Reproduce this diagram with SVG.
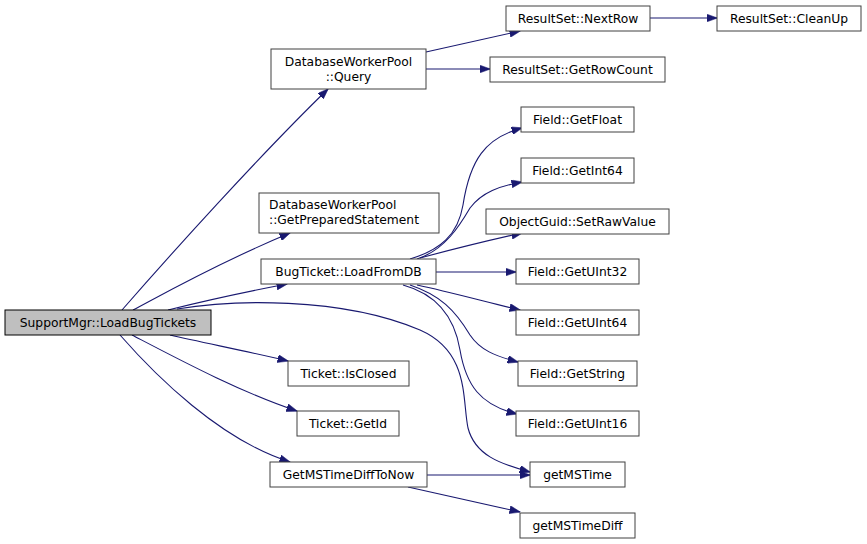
<svg xmlns="http://www.w3.org/2000/svg" width="867" height="544" viewBox="0 0 867 544">
<defs>
<style>
.n rect{fill:#fff;stroke:#404040;stroke-width:1}
.n text{font-family:"DejaVu Sans",sans-serif;font-size:12.3px;fill:#000;text-anchor:middle}
.n text.l{text-anchor:start}
#n0 rect{fill:#bfbfbf;stroke:#000}
.e path{fill:none;stroke:#191970;stroke-width:1.1;marker-end:url(#ah)}
</style>
<marker id="ah" markerUnits="userSpaceOnUse" markerWidth="11" markerHeight="8" refX="10.5" refY="4" orient="auto" viewBox="0 0 11 8">
<path d="M0,0 L11,4 L0,8 z" fill="#191970" stroke="#191970" stroke-width="0.5"/>
</marker>
</defs>
<rect width="867" height="544" fill="#fff"/>
<g class="e" id="edges">
<path d="M122,310 C170,255 260,155 328,89"/>
<path d="M133,310 C165,293 220,262 290,233"/>
<path d="M168,310 C200,302 245,292 287,284"/>
<path d="M177,309 C230,300 340,296 420,330 C470,352 462,400 468,428 C475,455 500,464 530,472"/>
<path d="M170,335 C205,343 250,352 288,361"/>
<path d="M132,335 C180,360 240,392 297,411"/>
<path d="M120,335 C155,375 220,440 290,462"/>
<path d="M410,259 C440,250 458,235 463,205 C470,160 485,138 522,128"/>
<path d="M417,259 C445,250 460,225 470,208 C482,192 500,186 522,182"/>
<path d="M420,258 C450,250 490,240 522,233"/>
<path d="M436,272 L516,272"/>
<path d="M417,285 C450,292 490,303 520,310"/>
<path d="M410,285 C440,295 455,310 470,335 C480,350 495,356 518,362"/>
<path d="M403,285 C440,295 455,320 460,350 C466,385 480,405 517,414"/>
<path d="M426,52 L520,31"/>
<path d="M426,69 L490,69"/>
<path d="M650,18 L717,18"/>
<path d="M427,475 L530,475"/>
<path d="M408,487 L520,512"/>
</g>
<g class="n" id="n0"><rect x="5" y="310" width="206" height="25"/><text x="108" y="326.5">SupportMgr::LoadBugTickets</text></g>
<g class="n" id="n1"><rect x="271" y="49" width="155" height="40"/><text x="348.5" y="65.5">DatabaseWorkerPool</text><text x="348.5" y="80.5">::Query</text></g>
<g class="n" id="n2"><rect x="259" y="193" width="180" height="40"/><text class="l" x="269" y="209">DatabaseWorkerPool</text><text class="l" x="269" y="224">::GetPreparedStatement</text></g>
<g class="n" id="n3"><rect x="261" y="259" width="175" height="25"/><text x="348.5" y="275.5">BugTicket::LoadFromDB</text></g>
<g class="n" id="n4"><rect x="506" y="6" width="144" height="25"/><text x="578" y="22.5">ResultSet::NextRow</text></g>
<g class="n" id="n5"><rect x="717" y="6" width="144" height="25"/><text x="789" y="22.5">ResultSet::CleanUp</text></g>
<g class="n" id="n6"><rect x="490" y="57" width="175" height="25"/><text x="577.5" y="73.5">ResultSet::GetRowCount</text></g>
<g class="n" id="n7"><rect x="521" y="107" width="113" height="25"/><text x="577.5" y="123.5">Field::GetFloat</text></g>
<g class="n" id="n8"><rect x="521" y="158" width="113" height="25"/><text x="577.5" y="174.5">Field::GetInt64</text></g>
<g class="n" id="n9"><rect x="486" y="209" width="183" height="25"/><text x="577.5" y="225.5">ObjectGuid::SetRawValue</text></g>
<g class="n" id="n10"><rect x="516" y="259" width="123" height="25"/><text x="577.5" y="275.5">Field::GetUInt32</text></g>
<g class="n" id="n11"><rect x="516" y="310" width="123" height="25"/><text x="577.5" y="326.5">Field::GetUInt64</text></g>
<g class="n" id="n12"><rect x="518" y="361" width="119" height="25"/><text x="577.5" y="377.5">Field::GetString</text></g>
<g class="n" id="n13"><rect x="516" y="411" width="123" height="25"/><text x="577.5" y="427.5">Field::GetUInt16</text></g>
<g class="n" id="n14"><rect x="530" y="462" width="95" height="25"/><text x="577.5" y="478.5">getMSTime</text></g>
<g class="n" id="n15"><rect x="520" y="513" width="115" height="25"/><text x="577.5" y="529.5">getMSTimeDiff</text></g>
<g class="n" id="n16"><rect x="288" y="361" width="121" height="25"/><text x="348.5" y="377.5">Ticket::IsClosed</text></g>
<g class="n" id="n17"><rect x="297" y="411" width="102" height="25"/><text x="348" y="427.5">Ticket::GetId</text></g>
<g class="n" id="n18"><rect x="270" y="462" width="157" height="25"/><text x="348.5" y="478.5">GetMSTimeDiffToNow</text></g>
</svg>
